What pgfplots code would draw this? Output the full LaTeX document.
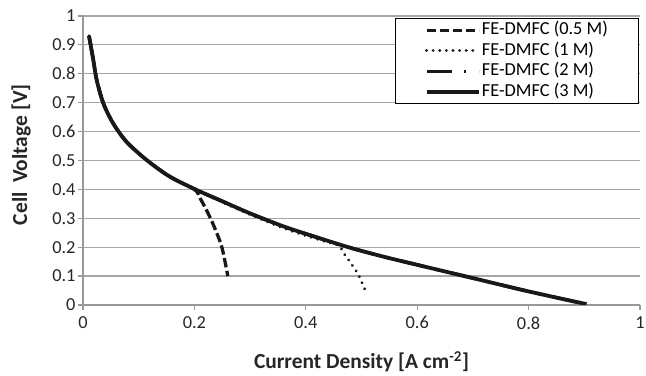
\documentclass[border=0pt]{standalone}
\usepackage{pgfplots}
\pgfplotsset{compat=1.18}
\usepackage{fontspec}
\setmainfont{Carlito}

% Polarisation curves of the FE-DMFC at four methanol concentrations
\pgfplotstableread{
I      V
0.0108 0.931
0.0185 0.848
0.0245 0.779
0.0365 0.698
0.054  0.629
0.078  0.565
0.114  0.502
0.156  0.444
0.204  0.398
0.250  0.359
0.300  0.317
0.360  0.272
0.420  0.234
0.480  0.198
0.540  0.167
0.600  0.139
0.700  0.093
0.800  0.047
0.904  0.003
}\threeM

\pgfplotstableread{
I      V
0.0108 0.931
0.0185 0.848
0.0245 0.779
0.0365 0.698
0.054  0.629
0.078  0.565
0.114  0.502
0.156  0.444
0.204  0.398
0.250  0.359
0.300  0.317
0.360  0.272
0.420  0.234
0.480  0.198
0.540  0.167
0.600  0.139
0.700  0.093
0.800  0.047
0.900  0.004
}\twoM

\pgfplotstableread{
I      V
0.0108 0.931
0.0185 0.848
0.0245 0.779
0.0365 0.698
0.054  0.629
0.078  0.565
0.114  0.502
0.156  0.444
0.204  0.397
0.250  0.356
0.300  0.313
0.360  0.266
0.420  0.228
0.458  0.206
0.467  0.182
0.476  0.158
0.485  0.133
0.494  0.107
0.500  0.081
0.506  0.054
}\oneM

\pgfplotstableread{
I      V
0.0108 0.931
0.0185 0.848
0.0245 0.779
0.0365 0.698
0.054  0.629
0.078  0.565
0.114  0.502
0.156  0.444
0.200  0.400
0.210  0.370
0.220  0.335
0.230  0.295
0.240  0.250
0.250  0.195
0.260  0.100
}\halfM

\begin{document}
\begin{tikzpicture}
\begin{axis}[
  scale only axis,
  width=557bp, height=289bp,
  xmin=0, xmax=1, ymin=0, ymax=1,
  xtick={0,0.2,0.4,0.6,0.8,1},
  ytick={0,0.1,0.2,0.3,0.4,0.5,0.6,0.7,0.8,0.9,1},
  axis lines*=left,
  axis line style={black!40, line width=1.2bp},
  ymajorgrids,
  grid style={black!35, line width=1.2bp},
  tick align=outside,
  major tick length=5bp,
  tick style={black!40, line width=1.2bp},
  /pgf/number format/assume math mode=true,
  tick label style={font=\fontsize{18.4}{20}\selectfont, text=black!85},
  xticklabel style={yshift=-3bp},
  yticklabel style={xshift=1bp},
  xlabel={\textbf{Current Density [A cm\textsuperscript{-2}]}},
  ylabel={\textbf{Cell\ \ Voltage [V]}},
  label style={font=\fontsize{21.5}{24}\selectfont, text=black!85},
  xlabel style={at={(axis description cs:0.5,-0.197)}, anchor=center},
  ylabel style={at={(axis description cs:-0.1113,0.52)}, anchor=center},
  legend style={
    at={(rel axis cs:1,1)}, anchor=north east, yshift=-2bp, xshift=-1bp,
    draw=black, line width=1.1bp, fill=white,
    font=\fontsize{18.4}{19}\selectfont,
    inner xsep=29bp, inner ysep=1.5bp,
    row sep=0bp,
    nodes={inner sep=1.5bp, text height=13bp, text depth=4.5bp},
  },
  legend cell align=left,
  legend image code/.code={\draw[#1] (0bp,0bp) -- (52bp,0bp);},
  every axis plot/.append style={black!90, line cap=butt},
]
\addplot[smooth, line width=3.3bp, dash pattern=on 9.5bp off 3.5bp] table {\halfM};
\addlegendentry{FE-DMFC (0.5 M)}
\addplot[smooth, line width=3.2bp, line cap=round, dash pattern=on 0.01bp off 6.6bp] table {\oneM};
\addlegendentry{FE-DMFC (1 M)}
\addplot[smooth, line width=3.3bp, dash pattern=on 25bp off 12bp on 2.5bp off 12.5bp] table {\twoM};
\addlegendentry{FE-DMFC (2 M)}
\addplot[smooth, line width=3.8bp] table {\threeM};
\addlegendentry{FE-DMFC (3 M)}
\end{axis}
\pgfresetboundingbox
\path[use as bounding box] ([xshift=-83bp,yshift=-71bp]current axis.south west) rectangle ([xshift=6bp,yshift=16bp]current axis.north east);
\end{tikzpicture}
\end{document}
